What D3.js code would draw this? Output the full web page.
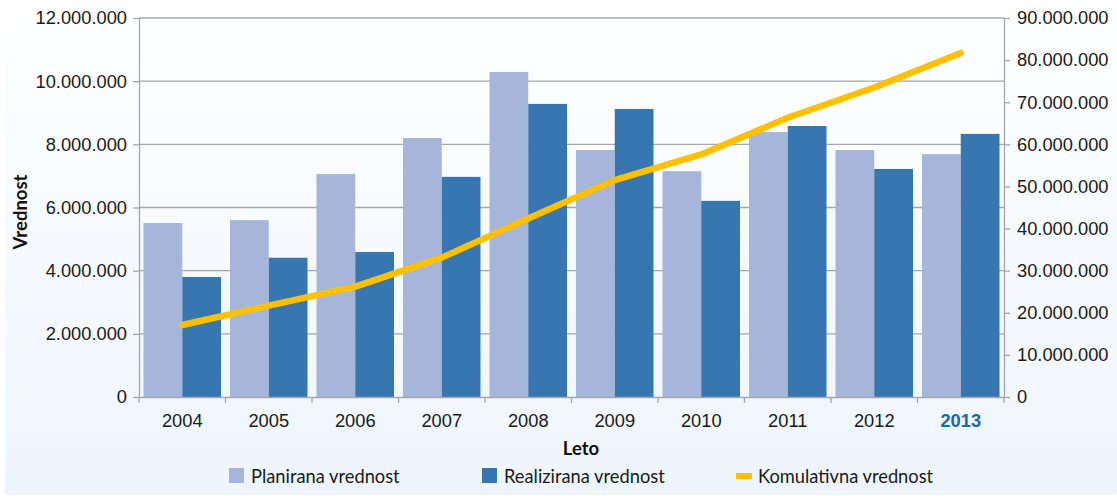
<!DOCTYPE html>
<html>
<head>
<meta charset="utf-8">
<script src="https://cdn.jsdelivr.net/npm/d3@7"></script>
<style>
  html, body { margin: 0; padding: 0; background: #fff; }
  svg { display: block; font-family: Lato, "Open Sans", sans-serif; }
</style>
</head>
<body>
<div id="chart"></div>
<script>
// podatki
var leta = ["2004", "2005", "2006", "2007", "2008", "2009", "2010", "2011", "2012", "2013"];
var planirana = [5510000, 5600000, 7060000, 8200000, 10290000, 7820000, 7150000, 8390000, 7820000, 7690000];
var realizirana = [3800000, 4410000, 4590000, 6970000, 9280000, 9120000, 6210000, 8580000, 7220000, 8330000];
var komulativna = [17100000, 21700000, 26200000, 33100000, 42400000, 51500000, 57600000, 66300000, 73500000, 81700000];
var leviTicki = [0, 2000000, 4000000, 6000000, 8000000, 10000000, 12000000];
var desniTicki = [0, 10000000, 20000000, 30000000, 40000000, 50000000, 60000000, 70000000, 80000000, 90000000];

var width = 1117;
var height = 496;
var margin = { top: 18, right: 113, bottom: 99, left: 139 };
var w = width - margin.left - margin.right;
var h = height - margin.top - margin.bottom;

var fmt = function(d) { return d3.format(",")(d).replace(/,/g, "."); };

var svg = d3.select("#chart").append("svg")
  .attr("width", width)
  .attr("height", height);

// ozadje
var grad = svg.append("defs").append("linearGradient")
  .attr("id", "bg").attr("x1", 0).attr("y1", 0).attr("x2", 0).attr("y2", 1);
grad.append("stop").attr("offset", "0%").attr("stop-color", "#ffffff");
grad.append("stop").attr("offset", "100%").attr("stop-color", "#edf5fc");
svg.append("rect")
  .attr("x", 5).attr("y", 0)
  .attr("width", width - 5).attr("height", height - 1)
  .attr("fill", "url(#bg)");

var g = svg.append("g")
  .attr("transform", "translate(" + margin.left + "," + margin.top + ")");

var x = d3.scaleBand()
  .domain(leta)
  .range([0, w])
  .paddingInner(0)
  .paddingOuter(0);

var x1 = d3.scaleBand()
  .domain(["p", "r"])
  .range([4.5, x.bandwidth() - 4.5])
  .padding(0);

var y = d3.scaleLinear().domain([0, 12000000]).range([h, 0]);
var y2 = d3.scaleLinear().domain([0, 90000000]).range([h, 0]);

// mreza
g.selectAll(".grid")
  .data(leviTicki.slice(1))
  .enter().append("line")
  .attr("x1", 0).attr("x2", w)
  .attr("y1", function(d) { return y(d); })
  .attr("y2", function(d) { return y(d); })
  .attr("stroke", "#a6a6a6")
  .attr("stroke-width", 1.3);

// stolpci
g.selectAll(".plan")
  .data(planirana)
  .enter().append("rect")
  .attr("x", function(d, i) { return x(leta[i]) + x1("p"); })
  .attr("y", function(d) { return y(d); })
  .attr("width", x1.bandwidth())
  .attr("height", function(d) { return h - y(d); })
  .attr("fill", "#a6b6da");

g.selectAll(".real")
  .data(realizirana)
  .enter().append("rect")
  .attr("x", function(d, i) { return x(leta[i]) + x1("r"); })
  .attr("y", function(d) { return y(d); })
  .attr("width", x1.bandwidth())
  .attr("height", function(d) { return h - y(d); })
  .attr("fill", "#3876b2");

// crta
var line = d3.line()
  .x(function(d, i) { return x(leta[i]) + x.bandwidth() / 2; })
  .y(function(d) { return y2(d); });

g.append("path")
  .datum(komulativna)
  .attr("d", line)
  .attr("fill", "none")
  .attr("stroke", "#ffc000")
  .attr("stroke-width", 6.5)
  .attr("stroke-linecap", "round")
  .attr("stroke-linejoin", "round");

// osi
var axisStyle = function(sel) {
  sel.selectAll("path, line").attr("stroke", "#a6a6a6").attr("stroke-width", 1.3);
  sel.selectAll("text").attr("fill", "#1a1a1a").style("font-size", "18.3px");
};

var yAxis = g.append("g")
  .call(d3.axisLeft(y).tickValues(leviTicki).tickFormat(fmt).tickSize(6).tickSizeOuter(0).tickPadding(6))
  .call(axisStyle);

var yAxis2 = g.append("g")
  .attr("transform", "translate(" + w + ",0)")
  .call(d3.axisRight(y2).tickValues(desniTicki).tickFormat(fmt).tickSize(6).tickSizeOuter(0).tickPadding(7))
  .call(axisStyle);

var xAxis = g.append("g")
  .attr("transform", "translate(0," + h + ")")
  .call(d3.axisBottom(x).tickSize(0).tickPadding(17))
  .call(axisStyle);

// ticki med kategorijami
xAxis.selectAll(".sep")
  .data(leta.concat(["end"]))
  .enter().append("line")
  .attr("x1", function(d, i) { return i * x.step(); })
  .attr("x2", function(d, i) { return i * x.step(); })
  .attr("y1", 0).attr("y2", 6)
  .attr("stroke", "#a6a6a6").attr("stroke-width", 1.3);

xAxis.selectAll(".tick text")
  .filter(function(d) { return d === "2013"; })
  .attr("fill", "#1b67a8")
  .style("font-weight", "bold");

// naslovi osi
svg.append("text")
  .attr("transform", "translate(27,212) rotate(-90)")
  .attr("text-anchor", "middle")
  .style("font-size", "18.5px")
  .style("font-weight", "bold")
  .attr("fill", "#111")
  .text("Vrednost");

svg.append("text")
  .attr("x", 581).attr("y", 455)
  .attr("text-anchor", "middle")
  .style("font-size", "18.5px")
  .style("font-weight", "bold")
  .attr("fill", "#111")
  .text("Leto");

// legenda
var legenda = [
  { ime: "Planirana vrednost", barva: "#a6b6da", x: 229, tip: "box" },
  { ime: "Realizirana vrednost", barva: "#3876b2", x: 482, tip: "box" },
  { ime: "Komulativna vrednost", barva: "#ffc000", x: 736, tip: "line" }
];
var leg = svg.selectAll(".leg")
  .data(legenda)
  .enter().append("g")
  .attr("transform", function(d) { return "translate(" + d.x + ",476)"; });

leg.append("rect")
  .attr("x", 0)
  .attr("y", function(d) { return d.tip === "box" ? -8 : -3; })
  .attr("width", function(d) { return d.tip === "box" ? 15 : 16; })
  .attr("height", function(d) { return d.tip === "box" ? 15 : 6; })
  .attr("fill", function(d) { return d.barva; });

leg.append("text")
  .attr("x", 22)
  .attr("y", 6.5)
  .style("font-size", "18.3px")
  .attr("fill", "#1a1a1a")
  .text(function(d) { return d.ime; });
</script>
</body>
</html>
